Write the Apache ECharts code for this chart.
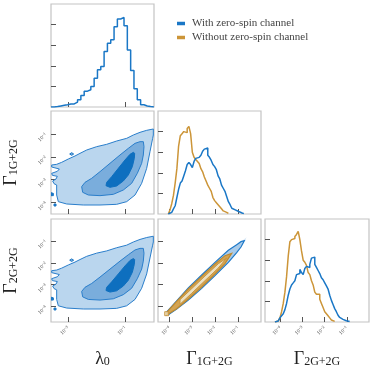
<!DOCTYPE html>
<html><head><meta charset="utf-8">
<script src="https://cdn.jsdelivr.net/npm/echarts@6/dist/echarts.min.js"></script>
<style>html,body{margin:0;padding:0;background:#fff}#c{width:374px;height:374px}</style>
</head><body><div id="c"></div>
<script>
// ---------- axis ranges / ticks (log10 units) ----------
const lamRange = [-3.6, 0];
const g1Range = [-4.5, 0];
const g2Range = [-4.7, 0];
const lamTicks = [-3, -1];
const gTicks = [-4, -3, -2, -1];
const histRange = [0, 5];
const histTicks = [1, 2, 3, 4];

// ---------- 1D histograms ----------
const lamBinStart = -3.6, lamBinWidth = 0.116;
const lamHist = [0,0.02,0.05,0.08,0.11,0.15,0.15,0.24,0.35,0.56,0.77,0.84,1.0,1.40,1.81,1.97,2.69,3.10,3.26,3.90,4.27,4.35,3.95,2.77,1.77,0.89,0.35,0.11,0.05,0.02,0];

const g1BinStart = -4.05, g1BinWidth = 0.075;
const g1HistWith = [0.03,0.08,0.12,0.25,0.4,0.8,1.2,1.5,1.6,1.85,2.1,2.4,2.5,2.4,2.25,2.55,2.7,2.75,2.7,2.85,3.05,3.15,3.2,2.85,2.75,2.6,2.4,2.3,2.15,1.85,1.7,1.4,1.25,1.1,0.85,0.6,0.45,0.28,0.2,0.15,0.12,0.08,0.05,0.02];
const g1HistWithout = [0.05,0.2,0.5,0.9,1.5,2.2,3.3,3.8,3.9,4.0,3.95,4.15,4.25,3.9,3.0,2.75,2.65,2.55,2.45,2.2,2.05,1.8,1.6,1.4,1.25,1.1,0.8,0.65,0.55,0.45,0.35,0.25,0.15,0.08,0.03];

const g2BinStart = -4.25, g2BinWidth = 0.075;
const g2HistWith = [0.02,0.05,0.1,0.2,0.3,0.4,0.6,0.9,1.3,1.6,1.8,1.9,2.0,2.3,2.35,2.55,2.4,2.3,2.6,2.7,2.65,2.8,3.1,3.15,2.8,2.65,2.5,2.35,2.15,2.05,1.9,1.75,1.6,1.3,1.05,0.85,0.65,0.5,0.33,0.22,0.13,0.08,0.06,0.04,0.02];
const g2HistWithout = [0.02,0.05,0.1,0.2,0.5,0.9,1.45,2.2,3.2,3.9,4.0,4.05,4.15,4.25,4.4,4.0,3.45,3.0,2.9,2.75,2.4,2.3,2.0,1.8,1.45,1.35,1.35,1.1,0.9,0.7,0.5,0.4,0.3,0.2,0.1,0.03];

// ---------- 2D contours: lambda0 vs Gamma (log10) ----------
const lgOuter = [[-0.023,-0.786],[-0.256,-0.845],[-0.489,-0.932],[-0.722,-1.049],[-0.955,-1.194],[-1.305,-1.311],[-1.654,-1.456],[-2.004,-1.558],[-2.353,-1.704],[-2.586,-1.850],[-2.761,-1.966],[-2.994,-2.097],[-3.227,-2.243],[-3.402,-2.330],[-3.577,-2.359],[-3.577,-2.447],[-3.309,-2.534],[-3.379,-2.636],[-3.577,-2.723],[-3.553,-2.811],[-3.379,-2.854],[-3.425,-2.971],[-3.542,-3.058],[-3.495,-3.175],[-3.402,-3.233],[-3.402,-3.670],[-3.344,-3.961],[-3.052,-4.063],[-2.470,-4.107],[-1.887,-4.107],[-1.305,-4.078],[-0.955,-3.961],[-0.664,-3.670],[-0.431,-3.160],[-0.256,-2.505],[-0.140,-1.777],[-0.047,-1.194],[-0.023,-1.049]];
const lgMiddle = [[-0.373,-1.340],[-0.350,-1.558],[-0.373,-1.922],[-0.431,-2.286],[-0.583,-2.723],[-0.781,-3.160],[-1.072,-3.452],[-1.422,-3.641],[-1.887,-3.699],[-2.295,-3.670],[-2.493,-3.553],[-2.528,-3.306],[-2.412,-3.117],[-2.179,-2.942],[-1.887,-2.650],[-1.538,-2.286],[-1.188,-1.922],[-0.897,-1.631],[-0.664,-1.413],[-0.489,-1.340]];
const lgInner = [[-0.722,-1.806],[-0.839,-1.893],[-1.014,-2.141],[-1.247,-2.505],[-1.480,-2.869],[-1.654,-3.117],[-1.678,-3.262],[-1.538,-3.335],[-1.305,-3.277],[-1.072,-3.058],[-0.897,-2.796],[-0.757,-2.432],[-0.688,-2.068],[-0.676,-1.850]];
const lgIslandA = [[-2.947,-1.879],[-2.878,-1.820],[-2.808,-1.879],[-2.878,-1.937]];
const lgIslandB = [[-3.6,-3.568],[-3.518,-3.597],[-3.518,-3.699],[-3.6,-3.699]];
const lgIslandC = [[-3.495,-4.063],[-3.425,-4.063],[-3.425,-4.151],[-3.495,-4.151]];

// ---------- 2D contours: Gamma1G+2G vs Gamma2G+2G ----------
const ggBlueOuter = [[-4.049,-4.365],[-3.684,-4.107],[-3.175,-3.696],[-2.592,-3.164],[-2.010,-2.586],[-1.427,-1.977],[-1.063,-1.536],[-0.874,-1.278],[-0.728,-0.989],[-0.874,-1.034],[-1.063,-1.171],[-1.427,-1.430],[-2.010,-1.977],[-2.592,-2.555],[-3.175,-3.148],[-3.684,-3.742],[-4.107,-4.229]];
const ggBlueTip = [[-0.874,-1.278],[-0.626,-0.837],[-0.874,-1.034]];
const ggOrangeOuter = [[-4.107,-4.365],[-3.684,-4.091],[-3.175,-3.650],[-2.592,-3.103],[-2.010,-2.510],[-1.573,-2.038],[-1.281,-1.567],[-1.573,-1.673],[-2.010,-2.053],[-2.592,-2.616],[-3.175,-3.194],[-3.684,-3.757],[-4.078,-4.213]];
const ggInner = [[-3.539,-3.894],[-3.029,-3.392],[-2.447,-2.814],[-1.864,-2.236],[-1.500,-1.780],[-1.864,-2.038],[-2.447,-2.601],[-3.029,-3.179],[-3.539,-3.681]];
const ggOrangeDot = [[-4.121,-4.320]];

const seriesNames = ['With zero-spin channel', 'Without zero-spin channel'];

// ---------- styling ----------
const SERIF = 'Liberation Serif';
const BLUE = '#1a77c6', ORANGE = '#cc9538';
const chart = echarts.init(document.getElementById('c'), null, {renderer: 'canvas'});

const gridBoxes = [
  {left: 51, top: 4, width: 103, height: 103},
  {left: 51, top: 111, width: 103, height: 103},
  {left: 158, top: 111, width: 103, height: 103},
  {left: 51, top: 219, width: 103, height: 103},
  {left: 158, top: 219, width: 103, height: 103},
  {left: 265, top: 219, width: 104, height: 103}
].map(g => Object.assign({show: true, borderColor: '#c4c4c4', borderWidth: 1.2, backgroundColor: 'rgba(0,0,0,0)'}, g));

const tickRich = {
  b: {fontSize: 5.5, fontFamily: SERIF, color: '#444'},
  s: {fontSize: 4, fontFamily: SERIF, color: '#444', verticalAlign: 'top', padding: [0, 0, 2, 0]}
};
const nameRich = {
  g: {fontSize: 18, lineHeight: 22, fontFamily: SERIF, color: '#222', verticalAlign: 'bottom'},
  s: {fontSize: 12, lineHeight: 12, fontFamily: SERIF, color: '#222', verticalAlign: 'bottom'}
};
function tickFmt(v) { return '{b|10}{s|\u2212' + Math.round(Math.abs(v)) + '}'; }

function axis(gi, range, ticks, labels, name, isY) {
  return {
    type: 'value', gridIndex: gi, min: range[0], max: range[1],
    position: isY ? 'left' : 'bottom',
    axisLine: {show: false, onZero: false}, splitLine: {show: false},
    axisTick: {show: true, inside: true, length: 5, customValues: ticks, lineStyle: {color: '#555', width: 1}},
    axisLabel: {show: labels, customValues: ticks, rotate: 45, margin: 5, formatter: tickFmt, rich: tickRich},
    name: name || '', nameLocation: 'middle', nameGap: isY ? 31 : 24, nameRotate: isY ? 90 : 0,
    nameTextStyle: {rich: nameRich}
  };
}

const xAxes = [
  axis(0, lamRange, lamTicks, false),
  axis(1, lamRange, lamTicks, false),
  axis(2, g1Range, gTicks, false),
  axis(3, lamRange, lamTicks, true, '{g|\u03bb}{s|0}'),
  axis(4, g1Range, gTicks, true, '{g|\u0393}{s|1G+2G}'),
  axis(5, g2Range, gTicks, true, '{g|\u0393}{s|2G+2G}')
];
const yAxes = [
  axis(0, histRange, histTicks, false, '', true),
  axis(1, g1Range, gTicks, true, '{g|\u0393}{s|1G+2G}', true),
  axis(2, histRange, histTicks, false, '', true),
  axis(3, g2Range, gTicks, true, '{g|\u0393}{s|2G+2G}', true),
  axis(4, g2Range, gTicks, false, '', true),
  axis(5, histRange, histTicks, false, '', true)
];

function stepPts(start, w, vals) {
  const p = [[start, 0]];
  vals.forEach((v, i) => p.push([+(start + i * w).toFixed(4), v]));
  p.push([+(start + vals.length * w).toFixed(4), 0]);
  return p;
}
function hist(idx, name, color, start, w, vals, z) {
  return {type: 'line', name, xAxisIndex: idx, yAxisIndex: idx, step: 'end', symbol: 'none',
    data: stepPts(start, w, vals), lineStyle: {color, width: 1.5}, itemStyle: {color}, z, silent: true};
}
function poly(idx, pts, style, z) {
  return {type: 'custom', xAxisIndex: idx, yAxisIndex: idx, data: pts, z, silent: true, clip: true,
    encode: {x: 0, y: 1},
    renderItem: (params, api) => {
      if (params.dataIndex !== 0) return null;
      return {type: 'polygon', shape: {points: pts.map(p => api.coord(p))}, style};
    }};
}
const sOuter = {fill: '#bad6ee', stroke: '#2a7ecb', lineWidth: 1};
const sMiddle = {fill: '#7aaddc', stroke: '#2a7ecb', lineWidth: 1};
const sInner = {fill: '#0e6fbf', stroke: '#0e6fbf', lineWidth: 1};
const sIsland = {fill: '#7aaddc', stroke: '#1a77c6', lineWidth: 1};
const sDark = {fill: '#1a77c6', stroke: '#1a77c6', lineWidth: 1};

const series = [];
series.push(hist(0, seriesNames[0], BLUE, lamBinStart, lamBinWidth, lamHist, 5));
[1, 3].forEach(i => {
  series.push(poly(i, lgOuter, sOuter, 1));
  series.push(poly(i, lgMiddle, sMiddle, 2));
  series.push(poly(i, lgInner, sInner, 3));
  series.push(poly(i, lgIslandA, sIsland, 2));
  series.push(poly(i, lgIslandB, sDark, 2));
  series.push(poly(i, lgIslandC, sDark, 2));
});
series.push(hist(2, seriesNames[1], ORANGE, g1BinStart, g1BinWidth, g1HistWithout, 4));
series.push(hist(2, seriesNames[0], BLUE, g1BinStart, g1BinWidth, g1HistWith, 5));
series.push(poly(4, ggBlueTip, {fill: '#d4e6f5', stroke: 'rgba(0,0,0,0)'}, 1));
series.push(poly(4, ggBlueOuter, {fill: '#a9cbe9', stroke: '#1f7ac9', lineWidth: 1.2}, 2));
series.push(poly(4, ggOrangeOuter, {fill: '#d4a452', stroke: '#c08a2e', lineWidth: 1.2}, 3));
series.push(poly(4, ggInner, {fill: '#ece0c2', stroke: '#c8963f', lineWidth: 1}, 4));
series.push({type: 'scatter', xAxisIndex: 4, yAxisIndex: 4, data: ggOrangeDot, symbol: 'rect', symbolSize: 4,
  itemStyle: {color: '#e6cfa0', borderColor: '#c08a2e', borderWidth: 1}, z: 5, silent: true});
series.push(hist(5, seriesNames[1], ORANGE, g2BinStart, g2BinWidth, g2HistWithout, 4));
series.push(hist(5, seriesNames[0], BLUE, g2BinStart, g2BinWidth, g2HistWith, 5));

chart.setOption({
  animation: false,
  backgroundColor: '#fff',
  grid: gridBoxes,
  xAxis: xAxes,
  yAxis: yAxes,
  legend: {
    orient: 'vertical', left: 172, top: 13, itemWidth: 8, itemHeight: 3.5, itemGap: 3, icon: 'rect',
    textStyle: {fontFamily: SERIF, fontSize: 11, color: '#444', padding: [0, 0, 0, 2]},
    data: seriesNames, selectedMode: false
  },
  series
});
</script></body></html>
